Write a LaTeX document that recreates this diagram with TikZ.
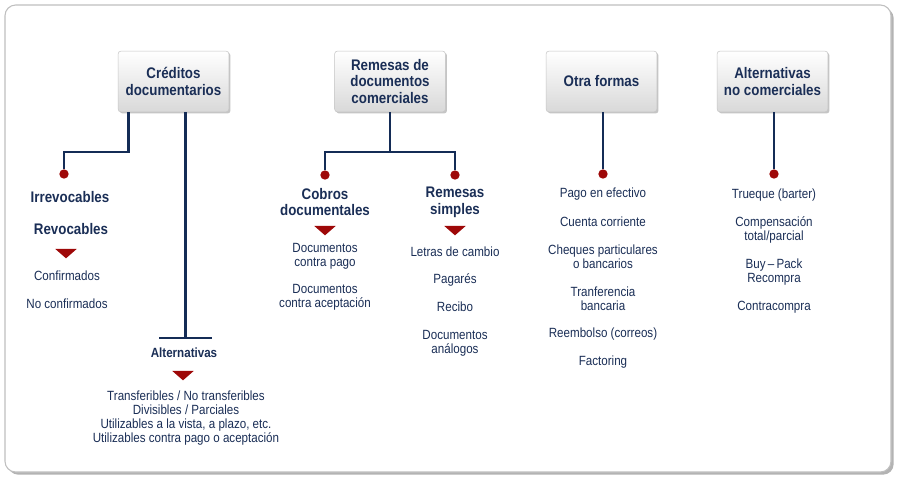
\documentclass[tikz,border=0pt]{standalone}
\usepackage{fontspec}
\setmainfont{Liberation Sans}[FakeStretch=0.87]
\usetikzlibrary{shapes.geometric,shadows,calc}
\definecolor{navy}{RGB}{20,44,86}
\definecolor{txtblue}{RGB}{26,46,86}
\definecolor{darkred}{RGB}{158,8,8}

\begin{document}
\begin{tikzpicture}[x=0.75pt,y=-0.75pt,
  box/.style={draw=gray!45,rounded corners=2pt,top color=white,bottom color=gray!30,
    minimum width=83pt,minimum height=45.5pt,align=center,text=txtblue,
    font=\fontsize{11.5}{12.5}\selectfont\bfseries,
    drop shadow={shadow xshift=1.2pt,shadow yshift=-1.2pt,opacity=.45}},
  head/.style={text=txtblue,align=center,font=\fontsize{11.5}{12.5}\selectfont\bfseries,inner sep=1pt},
  item/.style={text=txtblue,align=center,font=\fontsize{10}{10.5}\selectfont,inner sep=1pt},
  dot/.style={circle,fill=darkred,inner sep=0pt,minimum size=7pt},
  tri/.style={isosceles triangle,shape border rotate=-90,isosceles triangle stretches,
    fill=darkred,inner sep=0pt,minimum width=16pt,minimum height=7pt},
  conn/.style={draw=navy,line width=1.8pt}]
\useasboundingbox (0,0) rectangle (897,483);
\draw[gray!50,line width=0.8pt,rounded corners=8pt,fill=white,
  drop shadow={shadow xshift=2pt,shadow yshift=-2pt,opacity=.6}] (5,5) rectangle (891,472);

% cabeceras
\node[box] (cred) at (173.5,81.5) {Créditos\\documentarios};
\node[box] (rem) at (390,81.5) {Remesas de\\documentos\\comerciales};
\node[box] (otra) at (601.5,81.5) {Otra formas};
\node[box] (altn) at (772.5,81.5) {Alternativas\\no comerciales};

% puntos
\node[dot] (dIrr) at (64,174) {};
\node[dot] (dCob) at (325,175) {};
\node[dot] (dSim) at (455,175) {};
\node[dot] (dOtra) at (603,174) {};
\node[dot] (dAltn) at (774,174) {};
\coordinate (barAlt) at (185,338);

\draw[conn] ($(cred.south)+(-45,0)$) -- ++(0,40) -| (dIrr);
\draw[conn] ($(cred.south)+(12,0)$) |- (barAlt);
\draw[conn] ($(barAlt)+(-26,0)$) -- ($(barAlt)+(27,0)$);
\draw[conn] (rem.south) -- ++(0,40) coordinate (remJ);
\draw[conn] (dCob) |- (remJ) -| (dSim);
\draw[conn] (otra.south -| dOtra) -- (dOtra);
\draw[conn] (altn.south -| dAltn) -- (dAltn);

% creditos
\node[head] (irr) at (70,197) {Irrevocables};
\node[head] (revo) at (71,229) {Revocables};
\node[tri] (tCred) at (66,253) {};
\node[item] (conf) at (67,276) {Confirmados};
\node[item] (noconf) at (67,304) {No confirmados};
\node[head,font=\fontsize{10}{11}\selectfont\bfseries] (alt) at (184,353) {Alternativas};
\node[tri] (tAlt) at (183,375) {};
\node[item] (altList) at (186,418) {Transferibles / No transferibles\\Divisibles / Parciales\\
  Utilizables a la vista, a plazo, etc.\\Utilizables contra pago o aceptación};

% remesas
\node[head] (cob) at (325,202) {Cobros\\documentales};
\node[tri] (tCob) at (325,230) {};
\node[item] (dcp) at (325,256) {Documentos\\contra pago};
\node[item] (dca) at (325,297) {Documentos\\contra aceptación};
\node[head] (sim) at (455,202) {Remesas\\simples};
\node[tri] (tSim) at (455,230) {};
\node[item] (letras) at (455,252) {Letras de cambio};
\node[item] (pagares) at (455,280) {Pagarés};
\node[item] (recibo) at (455,307) {Recibo};
\node[item] (analog) at (455,343) {Documentos\\análogos};

% otra formas
\node[item] (pago) at (603,194) {Pago en efectivo};
\node[item] (cuenta) at (603,222) {Cuenta corriente};
\node[item] (cheq) at (603,257) {Cheques particulares\\o bancarios};
\node[item] (tranf) at (603,299) {Tranferencia\\bancaria};
\node[item] (reemb) at (603,334) {Reembolso (correos)};
\node[item] (fact) at (603,362) {Factoring};

% alternativas no comerciales
\node[item] (trueq) at (774,195) {Trueque (barter)};
\node[item] (comp) at (774,230) {Compensación\\total/parcial};
\node[item] (buy) at (774,272) {Buy\,--\,Pack\\Recompra};
\node[item] (contra) at (774,307) {Contracompra};
\end{tikzpicture}
\end{document}
